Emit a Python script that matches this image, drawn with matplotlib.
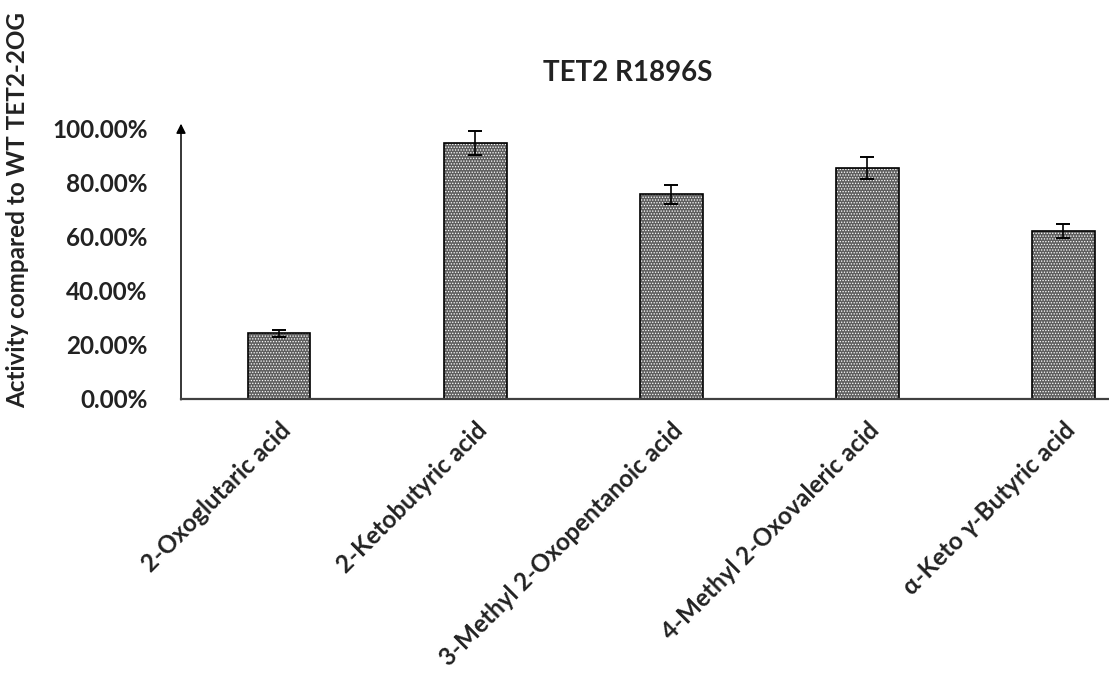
import matplotlib
matplotlib.use("Agg")
import matplotlib.pyplot as plt
from matplotlib.ticker import FuncFormatter

categories = ["2-Oxoglutaric acid", "2-Ketobutyric acid", "3-Methyl 2-Oxopentanoic acid",
              "4-Methyl 2-Oxovaleric acid", "α-Keto γ-Butyric acid"]
values = [0.242, 0.945, 0.756, 0.853, 0.620]
errors = [0.013, 0.045, 0.035, 0.041, 0.025]
title = "TET2 R1896S"
ylabel = "Activity compared to WT TET2-2OG"
yticks = [0.0, 0.2, 0.4, 0.6, 0.8, 1.0]

plt.rcParams['font.family'] = ['Lato', 'DejaVu Sans']
plt.rcParams['hatch.linewidth'] = 0.6

fig = plt.figure(figsize=(11.09, 6.81), dpi=100)
ax = fig.add_axes([181/1109, 1-399/681, 1-181/1109, (399-128)/681])

x = list(range(len(categories)))
ax.bar(x, values, width=0.32, color='#5e5e5e', edgecolor='white', hatch='......', linewidth=0, zorder=2)
ax.bar(x, values, width=0.32, fill=False, edgecolor='black', linewidth=1.2, zorder=3)
ax.errorbar(x, values, yerr=errors, fmt='none', ecolor='black', elinewidth=1.2, capsize=5, capthick=1.4, zorder=4)

ax.set_xlim(-0.5, (1109-279.5)/196)
ax.set_ylim(0, 1.0)
ax.set_yticks(yticks)
ax.yaxis.set_major_formatter(FuncFormatter(lambda v, p: f"{v*100:.2f}%"))
ax.tick_params(axis='y', length=0, pad=24, labelsize=17.5)
for t in ax.get_yticklabels():
    t.set_fontweight('bold')
    t.set_color('#222222')

ax.set_xticks(x)
ax.set_xticklabels(categories, rotation=45, ha='right', va='top', rotation_mode='anchor',
                   fontsize=17.5, fontweight='bold', color='#222222')
ax.tick_params(axis='x', length=0, pad=14)

for s in ['top', 'right', 'left']:
    ax.spines[s].set_visible(False)
ax.spines['bottom'].set_color('#404040')
ax.spines['bottom'].set_linewidth(1.6)
ax.spines['bottom'].set_zorder(5)

ax.annotate('', xy=(0, 1.016), xycoords='axes fraction', xytext=(0, -0.003), textcoords='axes fraction',
            arrowprops=dict(arrowstyle='-|>', color='black', lw=1.1, mutation_scale=14, shrinkA=0, shrinkB=0),
            annotation_clip=False)

fig.text(628/1109, 1-73/681, title, ha='center', va='center', fontsize=20, fontweight='bold', color='#222222')
fig.text(18/1109, 1-210/681, ylabel, ha='center', va='center', rotation=90, fontsize=17.5, fontweight='bold', color='#222222')

fig.savefig("out.png", dpi=100)
